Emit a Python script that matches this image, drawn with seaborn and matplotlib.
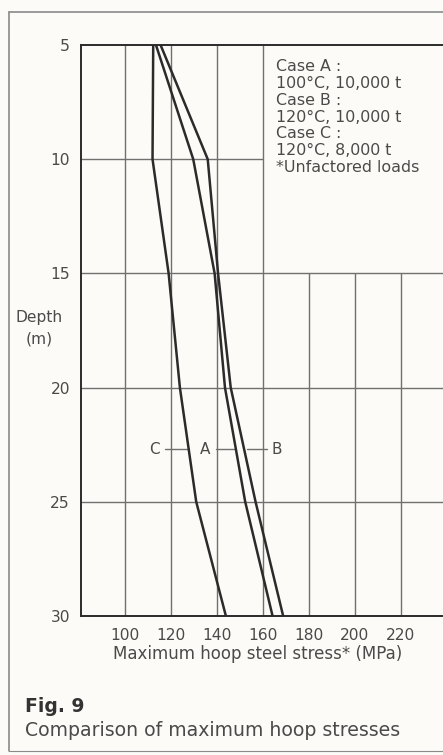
import matplotlib
matplotlib.use("Agg")
import matplotlib.pyplot as plt
import seaborn as sns
import pandas as pd
from matplotlib.lines import Line2D

# values
depth = [5, 10, 15, 20, 25, 30]
case_a = [113.5, 129.7, 139.0, 143.5, 152.3, 164.2]
case_b = [115.5, 136.0, 140.5, 146.0, 156.8, 168.8]
case_c = [112.3, 112.0, 119.0, 123.9, 131.0, 143.9]

x_ticks = [100, 120, 140, 160, 180, 200, 220]
y_ticks = [5, 10, 15, 20, 25, 30]

legend_lines = ["Case A :", "100°C, 10,000 t", "Case B :", "120°C, 10,000 t",
                "Case C :", "120°C, 8,000 t", "*Unfactored loads"]

# curve labels: C —|— A —|— B
lab_depth = 22.7
lab_names = ["C", "A", "B"]
lab_x = [113.0, 134.8, 166.0]
lab_ticks = [(117.4, 128.0), (139.7, 148.5), (153.0, 161.7)]

df = pd.DataFrame({"depth": depth * 3,
                   "stress": case_a + case_b + case_c,
                   "case": ["A"] * 6 + ["B"] * 6 + ["C"] * 6})

sns.set_style("white")
plt.rcParams["font.family"] = ["DejaVu Sans"]
txt = "#4a4a4a"
ink = "#2b2b2b"
grid = "#707070"

fig = plt.figure(figsize=(4.43, 7.55), dpi=100)
fig.patch.set_facecolor("#fcfbf7")
ax = fig.add_axes([81 / 443, 1 - 616 / 755, 1 - 81 / 443, (616 - 45) / 755])
ax.set_facecolor("#fcfbf7")

ax.set_xlim(80.9, 238.3)
ax.set_ylim(30, 5)

# grid: upper right block left empty for the notes
for xv in x_ticks:
    top = 5 if xv <= 160 else 15
    ax.vlines(xv, top, 30, color=grid, lw=1.0, zorder=1)
for yv in y_ticks[1:-1]:
    right = 160 if yv < 15 else 238.3
    ax.hlines(yv, 80.9, right, color=grid, lw=1.0, zorder=1)

for c in ["A", "B", "C"]:
    sns.lineplot(data=df[df["case"] == c], x="stress", y="depth", sort=False,
                 color=ink, lw=1.8, ax=ax, zorder=3, legend=False)

for name, xv, (x0, x1) in zip(lab_names, lab_x, lab_ticks):
    ax.text(xv, lab_depth, name, color=txt, fontsize=11, ha="center", va="center")
    ax.plot([x0, x1], [lab_depth, lab_depth], color=grid, lw=1.0, zorder=2)

ax.text(165.6, 5.62, "\n".join(legend_lines), color=txt, fontsize=11.4,
        ha="left", va="top", linespacing=1.15)

ax.set_xticks(x_ticks)
ax.set_yticks(y_ticks)
ax.tick_params(length=0, labelsize=11.2, labelcolor=txt)
ax.tick_params(axis="y", pad=8)
ax.tick_params(axis="x", pad=9)
ax.set_xlabel("Maximum hoop steel stress* (MPa)", fontsize=12, color=txt, labelpad=3)
ax.xaxis.set_label_coords((258 - 81) / 362, -0.05)
ax.set_ylabel("Depth\n(m)", rotation=0, fontsize=11.2, color=txt, linespacing=1.55,
              ha="center", va="center")
ax.yaxis.set_label_coords((39 - 81) / 362, (616 - 328.5) / 571)

for s in ["left", "top", "bottom"]:
    ax.spines[s].set_color(ink)
    ax.spines[s].set_linewidth(1.4)
ax.spines["right"].set_visible(False)

# page frame
fc = "#8a8a8a"
fig.add_artist(Line2D([9 / 443, 1], [1 - 12 / 755] * 2, color=fc, lw=1.2))
fig.add_artist(Line2D([9 / 443] * 2, [1 - 12 / 755, 1 - 751 / 755], color=fc, lw=1.2))
fig.add_artist(Line2D([9 / 443, 1], [1 - 751 / 755] * 2, color=fc, lw=0.8))

fig.text(25 / 443, 1 - 707 / 755, "Fig. 9", fontsize=13.5, fontweight="bold",
         color="#333333", ha="left", va="center")
fig.text(25 / 443, 1 - 730 / 755, "Comparison of maximum hoop stresses",
         fontsize=13.6, color=txt, ha="left", va="center")

fig.savefig("out.png", dpi=100, facecolor=fig.get_facecolor())
